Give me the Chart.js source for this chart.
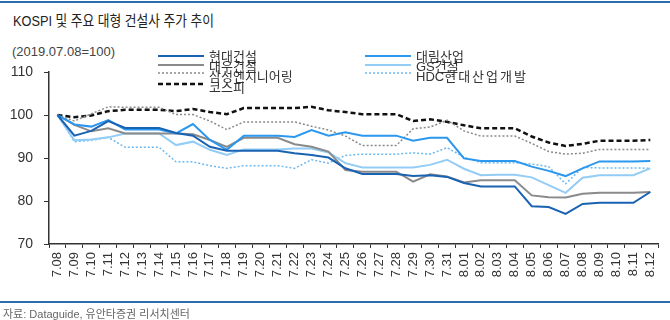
<!DOCTYPE html>
<html><head><meta charset="utf-8">
<script src="https://cdn.jsdelivr.net/npm/chart.js@4"></script>
<style>
html,body{margin:0;padding:0;background:#fff;}
#wrap{position:relative;width:670px;height:320px;overflow:hidden;font-family:"Liberation Sans","Noto Sans CJK KR",sans-serif;}
#topRule{position:absolute;left:0;top:1px;width:670px;height:2px;background:#2a6db5;}
#botRule{position:absolute;left:0;top:301px;width:670px;height:2px;background:#2a6db5;}
#title{position:absolute;left:13px;top:9px;font-size:15px;color:#222;white-space:nowrap;transform-origin:0 0;transform:scaleX(0.85);}
#sub{position:absolute;left:12px;top:44px;font-size:13px;color:#444;white-space:nowrap;}
#src{position:absolute;left:3px;top:305px;font-size:11px;color:#666;white-space:nowrap;}
#cv{position:absolute;left:0;top:0;}
.lg{position:absolute;font-size:13px;color:#333;white-space:nowrap;line-height:13px;}
.ls{position:absolute;}
</style></head>
<body>
<div id="wrap">
  <div id="topRule"></div>
  <div id="title">KOSPI 및 주요 대형 건설사 주가 추이</div>
  <div id="sub">(2019.07.08=100)</div>
  <canvas id="cv" width="670" height="320"></canvas>
  <div id="legend"></div>
  <div id="botRule"></div>
  <div id="src">자료: Dataguide, 유안타증권 리서치센터</div>
</div>
<script>
const dates = ["7.08","7.09","7.10","7.11","7.12","7.13","7.14","7.15","7.16","7.17","7.18","7.19","7.20","7.21","7.22","7.23","7.24","7.25","7.26","7.27","7.28","7.29","7.30","7.31","8.01","8.02","8.03","8.04","8.05","8.06","8.07","8.08","8.09","8.10","8.11","8.12"];
const yTicks = [70, 80, 90, 100, 110];
const names = ["현대건설","대림산업","대우건설","GS건설","삼성엔지니어링","HDC현대산업개발","코스피"];

const hyundai = [100,95.2,96.3,98.6,97.0,97.0,97.0,95.8,95.2,92.6,91.7,91.7,91.7,91.7,91.1,90.7,90.1,87.6,86.3,86.3,86.3,85.8,86.0,85.6,84.2,83.4,83.4,83.4,78.8,78.6,77.0,79.3,79.6,79.6,79.6,82.1];
const daelim = [100,97.8,97.3,98.8,96.6,96.6,96.6,95.7,97.9,94.2,91.9,95.2,95.2,95.2,94.9,96.5,95.2,96.0,95.2,95.2,95.2,94.0,94.7,94.7,89.9,89.3,89.3,89.3,88.0,87.0,85.8,87.6,89.2,89.2,89.2,89.3];
const daewoo = [100,97.7,96.2,96.9,95.7,95.7,95.7,95.7,95.5,94.2,92.6,94.7,94.7,94.7,93.2,92.6,91.5,87.2,86.8,86.8,86.8,84.5,86.2,85.7,84.3,84.8,84.8,84.8,81.3,80.9,80.8,81.7,81.9,81.9,81.9,82.1];
const gs = [100,94.1,94.3,94.8,95.7,95.7,95.7,93.0,93.8,91.9,90.7,92.0,92.0,92.0,92.2,92.2,91.3,88.8,87.8,87.8,87.8,87.8,88.4,89.6,87.5,86.0,86.1,86.1,85.5,83.7,81.9,85.4,86.0,86.0,86.0,87.6];
const samsungEng = [100,98.6,100.3,101.9,101.8,101.8,101.8,100.1,100.1,98.6,96.6,98.4,98.4,98.4,98.4,97.4,96.5,95.1,92.9,92.9,92.9,96.8,97.2,98.8,96.3,95.1,95.1,95.1,93.4,91.5,90.9,91.1,92.0,92.0,92.0,92.0];
const hdc = [100,93.8,94.1,94.8,92.5,92.5,92.5,89.1,89.1,88.2,87.6,88.2,88.2,88.2,87.6,89.6,88.8,90.6,90.9,90.9,90.9,91.2,90.9,92.4,90.2,88.9,88.9,88.9,88.6,88.0,84.0,87.8,87.7,87.7,87.7,87.6];
const kospi = [100,99.5,99.9,100.9,101.2,101.2,101.2,100.9,101.4,100.7,100.2,101.6,101.6,101.6,101.6,101.9,101.1,100.7,100.2,100.2,100.2,98.6,99.0,98.4,97.6,96.9,96.9,96.9,95.0,93.6,92.8,93.3,94.0,94.0,94.0,94.2];

const styles = [
  {color:'#1a62b2', width:2, dash:[]},
  {color:'#2b97ee', width:2, dash:[]},
  {color:'#8a8a8a', width:2, dash:[]},
  {color:'#93ccf5', width:2, dash:[]},
  {color:'#8a8a8a', width:1.5, dash:[2,2]},
  {color:'#6db9f0', width:1.5, dash:[2,2]},
  {color:'#111111', width:2.5, dash:[5,3]}
];
const seriesData = [hyundai, daelim, daewoo, gs, samsungEng, hdc, kospi];

const datasets = seriesData.map((d,i)=>({
  label: names[i], data: d,
  borderColor: styles[i].color, backgroundColor: styles[i].color,
  borderWidth: styles[i].width, borderDash: styles[i].dash,
  pointRadius: 0, tension: 0, fill: false
}));

new Chart(document.getElementById('cv'), {
  type: 'line',
  data: { labels: dates, datasets: datasets },
  options: {
    responsive: false, animation: false,
    layout: { padding: { left: 0, top: 72, right: 7.5, bottom: 36 } },
    plugins: { legend: { display: false }, tooltip: { enabled: false } },
    scales: {
      x: {
        type: 'category', offset: true,
        grid: { display: true, drawOnChartArea: false, drawTicks: true, tickLength: 4, offset: true, color: '#333' },
        border: { display: true, color: '#333', width: 1.5 },
        ticks: { autoSkip: false, maxRotation: 90, minRotation: 90, padding: 4, color: '#333', font: { family: 'Liberation Sans', size: 13 } },
        afterFit: s => { s.height = 40; }
      },
      y: {
        min: 70, max: 110,
        afterBuildTicks: s => { s.ticks = yTicks.map(v => ({ value: v })); },
        grid: { display: true, drawOnChartArea: false, drawTicks: true, tickLength: 5, color: '#333' },
        border: { display: true, color: '#333', width: 1.5 },
        ticks: { padding: 11, color: '#333', font: { family: 'Liberation Sans', size: 14 } },
        afterFit: s => { s.width = 49; }
      }
    }
  }
});

// legend (HTML)
const legendPos = [
  {x:158, ly:56, ty:50},
  {x:365, ly:56, ty:50},
  {x:158, ly:64.5, ty:60},
  {x:365, ly:64.5, ty:60},
  {x:158, ly:73, ty:70},
  {x:365, ly:73, ty:70},
  {x:158, ly:84, ty:81}
];
const lg = document.getElementById('legend');
names.forEach((n,i)=>{
  const p = legendPos[i], st = styles[i];
  const svg = document.createElementNS('http://www.w3.org/2000/svg','svg');
  svg.setAttribute('class','ls'); svg.setAttribute('width','46'); svg.setAttribute('height','6');
  svg.style.left = p.x+'px'; svg.style.top = (p.ly-3)+'px';
  const ln = document.createElementNS('http://www.w3.org/2000/svg','line');
  ln.setAttribute('x1','0'); ln.setAttribute('x2','46'); ln.setAttribute('y1','3'); ln.setAttribute('y2','3');
  ln.setAttribute('stroke', st.color); ln.setAttribute('stroke-width', st.width);
  if (st.dash.length) ln.setAttribute('stroke-dasharray', st.dash.join(','));
  svg.appendChild(ln); lg.appendChild(svg);
  const t = document.createElement('div'); t.className='lg';
  const m = n.match(/^([A-Za-z]+)(.+)$/);
  if (m && i === 5) {
    t.appendChild(document.createTextNode(m[1]));
    const sp = document.createElement('span'); sp.textContent = m[2]; sp.style.letterSpacing = '2px';
    t.appendChild(sp);
  } else {
    t.textContent = n;
  }
  t.style.left = (p.x+51)+'px'; t.style.top = p.ty+'px';
  lg.appendChild(t);
});
</script>
</body></html>
